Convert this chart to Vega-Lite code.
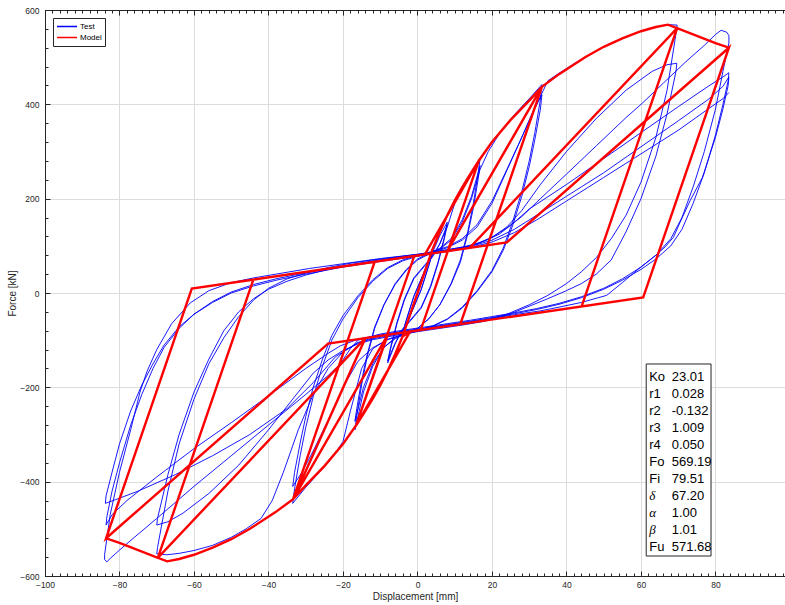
{
  "$schema": "https://vega.github.io/schema/vega-lite/v6.json",
  "width": 740,
  "height": 566,
  "autosize": {"type": "none"},
  "padding": {"left": 45, "top": 10, "right": 0, "bottom": 29},
  "background": "white",
  "config": {
    "view": {"stroke": null},
    "font": "Liberation Sans",
    "axis": {
      "domain": true, "domainColor": "#262626", "domainWidth": 1,
      "labelFont": "Liberation Sans", "titleFont": "Liberation Sans",
      "labelColor": "#262626", "titleColor": "#262626", "tickColor": "#262626",
      "labelFontSize": 8.5, "titleFontSize": 10, "titleFontWeight": "normal",
      "gridColor": "#dcdcdc", "gridWidth": 1, "labelFlush": false, "labelOverlap": false
    }
  },
  "datasets": {
    "test": [
      {"d":0,"f":0},{"d":2,"f":45},{"d":4,"f":85},{"d":3,"f":58},{"d":1,"f":8},{"d":-1,"f":-30},{"d":-2.5,"f":-58},{"d":-4,"f":-85},{"d":-3,"f":-58},{"d":-1,"f":-8},{"d":1,"f":30},{"d":2.5,"f":58},{"d":4,"f":84},{"d":3,"f":57},{"d":1,"f":7},{"d":-1,"f":-30},{"d":-2.5,"f":-57},{"d":-4,"f":-84},{"d":-3,"f":-57},{"d":-1,"f":-7},{"d":1,"f":30},{"d":2.5,"f":58},{"d":4,"f":85},
      {"d":6,"f":122},{"d":8,"f":150},{"d":7.2,"f":118},{"d":5.5,"f":65},{"d":3.5,"f":15},{"d":1,"f":-30},{"d":-2,"f":-58},{"d":-4,"f":-76},{"d":-6,"f":-108},{"d":-8,"f":-148},{"d":-7.2,"f":-118},{"d":-5.5,"f":-65},{"d":-3.5,"f":-15},{"d":-1,"f":30},{"d":2,"f":58},{"d":4,"f":76},{"d":6,"f":105},{"d":8,"f":145},{"d":7.2,"f":115},{"d":5.5,"f":62},{"d":3.5,"f":12},{"d":1,"f":-32},{"d":-2,"f":-60},{"d":-4,"f":-78},{"d":-6,"f":-106},{"d":-8,"f":-144},{"d":-7.2,"f":-114},{"d":-5.5,"f":-62},{"d":-3.5,"f":-12},{"d":-1,"f":32},{"d":2,"f":60},{"d":4,"f":78},{"d":6,"f":104},{"d":8,"f":140},
      {"d":10,"f":190},{"d":12,"f":220},{"d":14,"f":248},{"d":16.8,"f":285},
      {"d":16.3,"f":255},{"d":15,"f":190},{"d":13.5,"f":130},{"d":11.5,"f":70},{"d":9,"f":20},{"d":6,"f":-25},{"d":3,"f":-55},{"d":0,"f":-75},{"d":-3,"f":-85},{"d":-6,"f":-95},{"d":-9,"f":-115},{"d":-12,"f":-155},{"d":-14.5,"f":-210},{"d":-16.8,"f":-290},
      {"d":-16.3,"f":-260},{"d":-15,"f":-195},{"d":-13.5,"f":-135},{"d":-11.5,"f":-75},{"d":-9,"f":-25},{"d":-6,"f":20},{"d":-3,"f":50},{"d":0,"f":72},{"d":3,"f":84},{"d":6,"f":95},{"d":9,"f":115},{"d":12,"f":155},{"d":14.5,"f":205},{"d":16.8,"f":270},
      {"d":16.3,"f":242},{"d":15,"f":180},{"d":13.5,"f":125},{"d":11.5,"f":65},{"d":9,"f":18},{"d":6,"f":-25},{"d":3,"f":-55},{"d":0,"f":-75},{"d":-3,"f":-86},{"d":-6,"f":-97},{"d":-9,"f":-115},{"d":-12,"f":-150},{"d":-14.5,"f":-200},{"d":-16.8,"f":-272},
      {"d":-16.3,"f":-245},{"d":-15,"f":-185},{"d":-13.5,"f":-130},{"d":-11.5,"f":-72},{"d":-9,"f":-25},{"d":-6,"f":18},{"d":-3,"f":48},{"d":0,"f":70},{"d":3,"f":82},{"d":6,"f":93},{"d":9,"f":112},{"d":12,"f":150},{"d":14.5,"f":200},{"d":16.8,"f":262},
      {"d":19,"f":300},{"d":22,"f":338},{"d":26,"f":378},{"d":30,"f":412},{"d":33.4,"f":442},
      {"d":33,"f":410},{"d":31.5,"f":340},{"d":30,"f":280},{"d":28,"f":215},{"d":25.5,"f":150},{"d":23,"f":95},{"d":20,"f":48},{"d":16,"f":5},{"d":12,"f":-30},{"d":8,"f":-55},{"d":4,"f":-70},{"d":0,"f":-80},{"d":-4,"f":-88},{"d":-8,"f":-98},{"d":-12,"f":-118},{"d":-15,"f":-160},{"d":-18,"f":-250},{"d":-20,"f":-315},{"d":-23,"f":-350},{"d":-26,"f":-377},{"d":-30,"f":-412},{"d":-33.5,"f":-446},
      {"d":-33,"f":-415},{"d":-31.5,"f":-345},{"d":-30,"f":-285},{"d":-28,"f":-220},{"d":-25.5,"f":-155},{"d":-23,"f":-100},{"d":-20,"f":-55},{"d":-16,"f":-10},{"d":-12,"f":25},{"d":-8,"f":52},{"d":-4,"f":68},{"d":0,"f":78},{"d":4,"f":86},{"d":8,"f":96},{"d":12,"f":112},{"d":16,"f":140},{"d":20,"f":190},{"d":24,"f":260},{"d":28,"f":330},{"d":31,"f":385},{"d":33.4,"f":420},
      {"d":33,"f":390},{"d":31.5,"f":325},{"d":30,"f":268},{"d":28,"f":205},{"d":25.5,"f":142},{"d":23,"f":90},{"d":20,"f":45},{"d":16,"f":3},{"d":12,"f":-32},{"d":8,"f":-56},{"d":4,"f":-71},{"d":0,"f":-81},{"d":-4,"f":-89},{"d":-8,"f":-99},{"d":-12,"f":-116},{"d":-16,"f":-145},{"d":-20,"f":-200},{"d":-24,"f":-270},{"d":-28,"f":-335},{"d":-31,"f":-380},{"d":-33.5,"f":-410},
      {"d":-33,"f":-380},{"d":-31.5,"f":-318},{"d":-30,"f":-262},{"d":-28,"f":-200},{"d":-25.5,"f":-140},{"d":-23,"f":-90},{"d":-20,"f":-48},{"d":-16,"f":-6},{"d":-12,"f":28},{"d":-8,"f":54},{"d":-4,"f":70},{"d":0,"f":80},{"d":4,"f":88},{"d":8,"f":98},{"d":12,"f":115},{"d":16,"f":145},{"d":20,"f":195},{"d":24,"f":262},{"d":28,"f":330},{"d":32,"f":400},{"d":35,"f":450},{"d":38,"f":466},{"d":42,"f":486},{"d":46,"f":504},{"d":50,"f":522},{"d":55,"f":540},{"d":60,"f":555},{"d":64,"f":564},{"d":67,"f":569},{"d":69.7,"f":568},
      {"d":69.5,"f":555},{"d":67,"f":430},{"d":64,"f":330},{"d":60,"f":235},{"d":56,"f":165},{"d":52,"f":115},{"d":48,"f":75},{"d":44,"f":45},{"d":40,"f":20},{"d":35,"f":-5},{"d":30,"f":-25},{"d":24,"f":-45},{"d":18,"f":-58},{"d":12,"f":-66},{"d":6,"f":-73},{"d":0,"f":-80},{"d":-6,"f":-88},{"d":-12,"f":-97},{"d":-16,"f":-106},{"d":-20,"f":-125},{"d":-24,"f":-160},{"d":-28,"f":-215},{"d":-32,"f":-290},{"d":-36,"f":-380},{"d":-39,"f":-440},{"d":-42,"f":-478},{"d":-46,"f":-500},{"d":-50,"f":-518},{"d":-55,"f":-535},{"d":-60,"f":-546},{"d":-64,"f":-552},{"d":-67.3,"f":-555},{"d":-70,"f":-553},
      {"d":-69.8,"f":-540},{"d":-67,"f":-420},{"d":-64,"f":-320},{"d":-60,"f":-225},{"d":-56,"f":-150},{"d":-52,"f":-95},{"d":-48,"f":-50},{"d":-44,"f":-15},{"d":-40,"f":10},{"d":-35,"f":30},{"d":-30,"f":42},{"d":-24,"f":54},{"d":-18,"f":63},{"d":-12,"f":70},{"d":-6,"f":76},{"d":0,"f":82},{"d":6,"f":88},{"d":12,"f":96},{"d":16,"f":104},{"d":20,"f":118},{"d":24,"f":140},{"d":28,"f":175},{"d":33,"f":230},{"d":40,"f":300},{"d":48,"f":370},{"d":56,"f":430},{"d":63,"f":470},{"d":67,"f":484},{"d":69.6,"f":487},
      {"d":69.4,"f":470},{"d":67,"f":380},{"d":64,"f":290},{"d":60,"f":200},{"d":56,"f":130},{"d":52,"f":70},{"d":48,"f":40},{"d":44,"f":20},{"d":40,"f":5},{"d":35,"f":-12},{"d":30,"f":-28},{"d":24,"f":-47},{"d":18,"f":-60},{"d":12,"f":-68},{"d":6,"f":-75},{"d":0,"f":-82},{"d":-6,"f":-90},{"d":-12,"f":-99},{"d":-16,"f":-108},{"d":-20,"f":-122},{"d":-24,"f":-142},{"d":-28,"f":-170},{"d":-33,"f":-220},{"d":-40,"f":-290},{"d":-48,"f":-365},{"d":-56,"f":-425},{"d":-63,"f":-467},{"d":-67,"f":-485},{"d":-70,"f":-492},
      {"d":-69.8,"f":-478},{"d":-67,"f":-385},{"d":-64,"f":-300},{"d":-60,"f":-210},{"d":-56,"f":-140},{"d":-52,"f":-80},{"d":-48,"f":-40},{"d":-44,"f":-12},{"d":-40,"f":8},{"d":-35,"f":25},{"d":-30,"f":38},{"d":-24,"f":50},{"d":-18,"f":60},{"d":-12,"f":68},{"d":-6,"f":75},{"d":0,"f":81},{"d":6,"f":88},{"d":12,"f":97},{"d":16,"f":105},{"d":20,"f":118},{"d":24,"f":138},{"d":28,"f":162},{"d":33,"f":200},{"d":40,"f":252},{"d":48,"f":312},{"d":56,"f":372},{"d":60.3,"f":402},{"d":66,"f":445},{"d":72,"f":490},{"d":77,"f":525},{"d":80,"f":548},{"d":81.5,"f":557},{"d":83,"f":553},{"d":83.6,"f":546},
      {"d":83.6,"f":530},{"d":82,"f":470},{"d":80,"f":390},{"d":77,"f":300},{"d":74,"f":225},{"d":71,"f":160},{"d":68,"f":115},{"d":64,"f":80},{"d":60,"f":55},{"d":55,"f":30},{"d":50,"f":10},{"d":44,"f":-8},{"d":38,"f":-22},{"d":32,"f":-33},{"d":26,"f":-42},{"d":20,"f":-50},{"d":14,"f":-58},{"d":8,"f":-65},{"d":2,"f":-72},{"d":-4,"f":-79},{"d":-10,"f":-87},{"d":-16,"f":-100},{"d":-18,"f":-118},{"d":-20.7,"f":-150},{"d":-24,"f":-175},{"d":-30,"f":-215},{"d":-40,"f":-280},{"d":-50,"f":-345},{"d":-60,"f":-410},{"d":-70,"f":-478},{"d":-76,"f":-518},{"d":-80,"f":-545},{"d":-82.5,"f":-563},{"d":-83.4,"f":-570},{"d":-84,"f":-565},
      {"d":-84,"f":-555},{"d":-82.5,"f":-470},{"d":-80,"f":-380},{"d":-77,"f":-290},{"d":-74.5,"f":-210},{"d":-72.6,"f":-166},{"d":-70,"f":-120},{"d":-66,"f":-65},{"d":-61,"f":-21},{"d":-56,"f":5},{"d":-50,"f":22},{"d":-44,"f":32},{"d":-38,"f":40},{"d":-29,"f":52},{"d":-20,"f":62},{"d":-10,"f":73},{"d":0,"f":82},{"d":8,"f":92},{"d":14,"f":100},{"d":18,"f":110},{"d":22,"f":125},{"d":26,"f":150},{"d":30,"f":178},{"d":40,"f":230},{"d":50,"f":285},{"d":60,"f":340},{"d":70,"f":395},{"d":78,"f":438},{"d":82,"f":458},{"d":83.6,"f":467},
      {"d":83.4,"f":450},{"d":82,"f":400},{"d":80,"f":335},{"d":77,"f":255},{"d":74,"f":190},{"d":71,"f":135},{"d":68,"f":100},{"d":64,"f":72},{"d":60,"f":50},{"d":55,"f":27},{"d":50,"f":8},{"d":44,"f":-10},{"d":38,"f":-24},{"d":32,"f":-35},{"d":26,"f":-44},{"d":20,"f":-52},{"d":14,"f":-60},{"d":8,"f":-67},{"d":2,"f":-74},{"d":-4,"f":-81},{"d":-10,"f":-89},{"d":-16,"f":-98},{"d":-20.7,"f":-112},{"d":-24,"f":-128},{"d":-30,"f":-160},{"d":-40,"f":-218},{"d":-50,"f":-275},{"d":-60,"f":-330},{"d":-70,"f":-390},{"d":-78,"f":-440},{"d":-82,"f":-470},{"d":-83.6,"f":-492},
      {"d":-83.4,"f":-475},{"d":-82,"f":-420},{"d":-80,"f":-360},{"d":-77,"f":-280},{"d":-74,"f":-215},{"d":-71,"f":-160},{"d":-68,"f":-115},{"d":-64,"f":-75},{"d":-60,"f":-45},{"d":-55,"f":-18},{"d":-50,"f":2},{"d":-44,"f":18},{"d":-38,"f":30},{"d":-30,"f":43},{"d":-20,"f":57},{"d":-10,"f":69},{"d":0,"f":80},{"d":8,"f":90},{"d":14,"f":98},{"d":20,"f":112},{"d":26,"f":135},{"d":32,"f":165},{"d":40,"f":205},{"d":50,"f":255},{"d":60,"f":310},{"d":70,"f":365},{"d":78,"f":410},{"d":82,"f":438},{"d":83.6,"f":458},
      {"d":83.4,"f":440},{"d":82,"f":390},{"d":80,"f":330},{"d":76.5,"f":245},{"d":73.2,"f":196},{"d":70.5,"f":150},{"d":68.7,"f":118},{"d":66.5,"f":98},{"d":64.3,"f":82},{"d":59.8,"f":54},{"d":55,"f":22},{"d":50.8,"f":-5},{"d":44,"f":-20},{"d":38,"f":-30},{"d":32.9,"f":-38},{"d":26,"f":-46},{"d":20,"f":-54},{"d":14,"f":-61},{"d":8,"f":-68},{"d":2,"f":-75},{"d":-4,"f":-82},{"d":-10,"f":-90},{"d":-16,"f":-105},{"d":-22,"f":-135},{"d":-28,"f":-190},{"d":-35,"f":-245},{"d":-45,"f":-300},{"d":-55,"f":-345},{"d":-65,"f":-385},{"d":-75,"f":-420},{"d":-81,"f":-438},{"d":-83.8,"f":-446},
      {"d":-83.6,"f":-430},{"d":-82,"f":-380},{"d":-80,"f":-320},{"d":-77,"f":-250},{"d":-74,"f":-195},{"d":-71,"f":-150},{"d":-68,"f":-110},{"d":-64,"f":-72},{"d":-60,"f":-45},{"d":-55,"f":-20},{"d":-50,"f":0},{"d":-44,"f":15},{"d":-38,"f":27},{"d":-30,"f":40},{"d":-20,"f":55},{"d":-10,"f":67},{"d":0,"f":78},{"d":8,"f":88},{"d":14,"f":96},{"d":20,"f":108},{"d":26,"f":128},{"d":32,"f":155},{"d":40,"f":195},{"d":50,"f":245},{"d":60,"f":295},{"d":70,"f":345},{"d":78,"f":390},{"d":82,"f":412},{"d":83.6,"f":425}
    ],
    "model": [
      {"d":0,"f":0},{"d":4,"f":92},{"d":-4,"f":-92},{"d":4,"f":92},{"d":-4,"f":-92},{"d":4,"f":92},{"d":6,"f":130},{"d":8,"f":165},{"d":10,"f":196},{"d":12,"f":224},{"d":14,"f":250},{"d":16.5,"f":281},
      {"d":0.87,"f":-78.5},{"d":-2,"f":-81.8},{"d":-4,"f":-92},{"d":-6,"f":-130},{"d":-8,"f":-165},{"d":-10,"f":-196},{"d":-12,"f":-224},{"d":-14,"f":-250},{"d":-16.5,"f":-281},
      {"d":-0.87,"f":78.5},{"d":2,"f":81.8},{"d":16.5,"f":281},
      {"d":0.87,"f":-78.5},{"d":-2,"f":-81.8},{"d":-16.5,"f":-281},
      {"d":-0.87,"f":78.5},{"d":2,"f":81.8},{"d":16.5,"f":281},
      {"d":20,"f":320},{"d":25,"f":367},{"d":30,"f":408},{"d":33.4,"f":437},
      {"d":11.5,"f":-66.2},{"d":-8,"f":-88.8},{"d":-16.5,"f":-281},{"d":-20,"f":-320},{"d":-25,"f":-367},{"d":-30,"f":-408},{"d":-33.4,"f":-437},
      {"d":-11.5,"f":66.2},{"d":8,"f":88.8},{"d":33.4,"f":437},
      {"d":11.5,"f":-66.2},{"d":-8,"f":-88.8},{"d":-33.4,"f":-437},
      {"d":-11.5,"f":66.2},{"d":8,"f":88.8},{"d":33.4,"f":437},
      {"d":38,"f":464},{"d":45,"f":500},{"d":50,"f":522},{"d":55,"f":540},{"d":60,"f":555},{"d":64,"f":564},{"d":67.2,"f":569},{"d":69.7,"f":561.4},
      {"d":44.06,"f":-28.4},{"d":-14,"f":-95.7},{"d":-33.4,"f":-437},{"d":-38,"f":-464},{"d":-45,"f":-500},{"d":-50,"f":-522},{"d":-55,"f":-540},{"d":-60,"f":-555},{"d":-64,"f":-564},{"d":-67.2,"f":-569},{"d":-69.7,"f":-561.4},
      {"d":-44.06,"f":28.4},{"d":14,"f":95.7},{"d":69.7,"f":561.4},
      {"d":44.06,"f":-28.4},{"d":-14,"f":-95.7},{"d":-69.7,"f":-561.4},
      {"d":-44.06,"f":28.4},{"d":14,"f":95.7},{"d":69.7,"f":561.4},
      {"d":75,"f":545},{"d":80,"f":530},{"d":83.6,"f":520},
      {"d":60.59,"f":-9.2},{"d":-14,"f":-95.7},{"d":-69.7,"f":-561.4},{"d":-75,"f":-545},{"d":-80,"f":-530},{"d":-83.6,"f":-520},
      {"d":-60.59,"f":9.2},{"d":24,"f":107.3},{"d":83.6,"f":520},
      {"d":60.59,"f":-9.2},{"d":-24,"f":-107.3},{"d":-83.6,"f":-520},
      {"d":-60.59,"f":9.2},{"d":24,"f":107.3},{"d":83.6,"f":520}
    ]
  },
  "layer": [
    {
      "data": {"name": "test"},
      "mark": {"type": "line", "strokeWidth": 0.9, "clip": true},
      "encoding": {
        "x": {"field": "d", "type": "quantitative",
          "scale": {"domain": [-100, 98.66], "nice": false, "zero": false},
          "axis": {"orient": "bottom", "values": [-100,-80,-60,-40,-20,0,20,40,60,80,100], "grid": true, "tickSize": -5, "labelPadding": 9, "title": "Displacement [mm]", "titlePadding": 3}},
        "y": {"field": "f", "type": "quantitative",
          "scale": {"domain": [-600, 600], "nice": false, "zero": false},
          "axis": {"orient": "left", "values": [-600,-400,-200,0,200,400,600], "grid": true, "tickSize": -5, "labelPadding": 11, "title": "Force [kN]", "titlePadding": 2}},
        "color": {"datum": "Test", "type": "nominal",
          "scale": {"domain": ["Test", "Model"], "range": ["#0000ff", "#ff0000"]},
          "legend": {"orient": "top-left", "offset": 8, "title": null, "strokeColor": "#262626", "fillColor": "white", "padding": 3, "labelFontSize": 8, "labelFont": "Liberation Sans", "labelColor": "#000000", "symbolType": "stroke", "symbolSize": 400, "symbolStrokeWidth": 1.5, "clipHeight": 11, "rowPadding": 0, "labelOffset": 2, "cornerRadius": 0}},
        "order": {"value": null}
      }
    },
    {
      "data": {"name": "model"},
      "mark": {"type": "line", "strokeWidth": 2.4, "clip": true},
      "encoding": {
        "x": {"field": "d", "type": "quantitative",
          "scale": {"domain": [-100, 98.66], "nice": false, "zero": false},
          "axis": {"orient": "bottom", "values": [-100,-98,-96,-94,-92,-90,-88,-86,-84,-82,-80,-78,-76,-74,-72,-70,-68,-66,-64,-62,-60,-58,-56,-54,-52,-50,-48,-46,-44,-42,-40,-38,-36,-34,-32,-30,-28,-26,-24,-22,-20,-18,-16,-14,-12,-10,-8,-6,-4,-2,0,2,4,6,8,10,12,14,16,18,20,22,24,26,28,30,32,34,36,38,40,42,44,46,48,50,52,54,56,58,60,62,64,66,68,70,72,74,76,78,80,82,84,86,88,90,92,94,96,98], "grid": false, "tickSize": -3, "labels": false, "title": null, "domain": false}},
        "y": {"field": "f", "type": "quantitative",
          "scale": {"domain": [-600, 600], "nice": false, "zero": false},
          "axis": {"orient": "left", "values": [-600,-560,-520,-480,-440,-400,-360,-320,-280,-240,-200,-160,-120,-80,-40,0,40,80,120,160,200,240,280,320,360,400,440,480,520,560,600], "grid": false, "tickSize": -3, "labels": false, "title": null, "domain": false}},
        "color": {"datum": "Model", "type": "nominal"},
        "order": {"value": null}
      }
    },
    {
      "data": {"values": [{}]},
      "mark": {"type": "rect", "fill": "white", "stroke": "#262626", "strokeWidth": 1},
      "encoding": {
        "x": {"datum": 61.4, "type": "quantitative",
          "scale": {"domain": [-100, 98.66], "nice": false, "zero": false},
          "axis": {"orient": "top", "values": [-100,-80,-60,-40,-20,0,20,40,60,80,100], "grid": false, "tickSize": -5, "labels": false, "title": null}},
        "x2": {"datum": 78.8},
        "y": {"datum": -150.5, "type": "quantitative", "scale": {"domain": [-600, 600], "nice": false, "zero": false}, "axis": null},
        "y2": {"datum": -557.6}
      }
    },
    {
      "data": {"values": [{}]},
      "mark": {"type": "text", "align": "left", "baseline": "top", "font": "Liberation Sans", "fontSize": 13, "lineHeight": 16.94, "color": "#000000",
        "text": ["Ko", "r1", "r2", "r3", "r4", "Fo", "Fi"]},
      "encoding": {
        "x": {"datum": 62.2, "type": "quantitative",
          "scale": {"domain": [-100, 98.66], "nice": false, "zero": false},
          "axis": {"orient": "top", "values": [-100,-98,-96,-94,-92,-90,-88,-86,-84,-82,-80,-78,-76,-74,-72,-70,-68,-66,-64,-62,-60,-58,-56,-54,-52,-50,-48,-46,-44,-42,-40,-38,-36,-34,-32,-30,-28,-26,-24,-22,-20,-18,-16,-14,-12,-10,-8,-6,-4,-2,0,2,4,6,8,10,12,14,16,18,20,22,24,26,28,30,32,34,36,38,40,42,44,46,48,50,52,54,56,58,60,62,64,66,68,70,72,74,76,78,80,82,84,86,88,90,92,94,96,98], "grid": false, "tickSize": -3, "labels": false, "title": null, "domain": false}},
        "y": {"datum": -166.3, "type": "quantitative", "scale": {"domain": [-600, 600], "nice": false, "zero": false}, "axis": null}
      }
    },
    {
      "data": {"values": [{}]},
      "mark": {"type": "text", "align": "left", "baseline": "top", "font": "Liberation Serif", "fontStyle": "italic", "fontSize": 13, "lineHeight": 16.94, "color": "#000000",
        "text": ["δ", "α", "β"]},
      "encoding": {
        "x": {"datum": 62.2, "type": "quantitative", "scale": {"domain": [-100, 98.66], "nice": false, "zero": false}, "axis": null},
        "y": {"datum": -417.7, "type": "quantitative", "scale": {"domain": [-600, 600], "nice": false, "zero": false}, "axis": null}
      }
    },
    {
      "data": {"values": [{}]},
      "mark": {"type": "text", "align": "left", "baseline": "top", "font": "Liberation Sans", "fontSize": 13, "color": "#000000", "text": "Fu"},
      "encoding": {
        "x": {"datum": 62.2, "type": "quantitative", "scale": {"domain": [-100, 98.66], "nice": false, "zero": false}, "axis": null},
        "y": {"datum": -525.4, "type": "quantitative", "scale": {"domain": [-600, 600], "nice": false, "zero": false}, "axis": null}
      }
    },
    {
      "data": {"values": [{}]},
      "mark": {"type": "text", "align": "left", "baseline": "top", "font": "Liberation Sans", "fontSize": 13, "lineHeight": 16.94, "color": "#000000",
        "text": ["23.01", "0.028", "-0.132", "1.009", "0.050", "569.19", "79.51", "67.20", "1.00", "1.01", "571.68"]},
      "encoding": {
        "x": {"datum": 68.24, "type": "quantitative", "scale": {"domain": [-100, 98.66], "nice": false, "zero": false}, "axis": null},
        "y": {"datum": -166.3, "type": "quantitative", "scale": {"domain": [-600, 600], "nice": false, "zero": false}, "axis": null}
      }
    }
  ],
  "resolve": {"axis": {"x": "independent", "y": "independent"}}
}
